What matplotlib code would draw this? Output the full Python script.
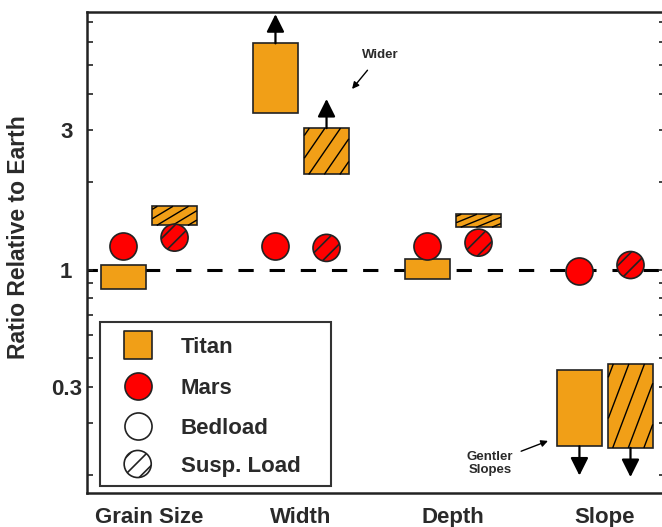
import numpy as np
import matplotlib
matplotlib.use('Agg')
import matplotlib.pyplot as plt
import matplotlib.patches as mpatches
from matplotlib.ticker import FixedLocator, LogLocator, NullFormatter

plt.rcParams['font.family'] = ['Liberation Sans', 'DejaVu Sans']
plt.rcParams['font.weight'] = 'bold'
plt.rcParams['hatch.linewidth'] = 1.2

categories = ['Grain Size', 'Width', 'Depth', 'Slope']

# Titan ranges, ratio to Earth (bedload / suspended load)
titan_bed_lo = [0.86, 3.44, 0.93, 0.250]
titan_bed_hi = [1.04, 5.94, 1.09, 0.456]
titan_susp_lo = [1.42, 2.12, 1.40, 0.247]
titan_susp_hi = [1.65, 3.05, 1.55, 0.478]
# open-ended ranges: 1 = keeps going up, -1 = keeps going down
titan_bound = [0, 1, 0, -1]

# Mars, ratio to Earth
mars_bed = [1.21, 1.21, 1.21, 0.99]
mars_susp = [1.29, 1.19, 1.24, 1.04]

y_ticks = [0.4, 1, 3]
y_tick_labels = ['0.3', '1', '3']

legend_labels = ['Titan', 'Mars', 'Bedload', 'Susp. Load']

ORANGE = '#f19f17'
EDGE = '#222222'
TEXT = '#2a2a2a'
OFF = 0.168      # bedload / susp. load offset from the category centre
BOX_W = 0.293
MSIZE = 380


def hatch_box(ax, xl, w, lo, hi, slope=1.4, step=0.35):
    # diagonal hatch stretched to the box (lines drawn in box-relative coords)
    llo, lhi = np.log10(lo), np.log10(hi)
    for a in np.arange(-0.6, 1.0, step):
        u0, u1 = max(0.0, a), min(1.0, a + 1.0 / slope)
        if u1 <= u0:
            continue
        us = np.array([u0, u1])
        vs = slope * (us - a)
        xs = xl + us * w
        ys = 10 ** (llo + vs * (lhi - llo))
        ax.plot(xs, ys, color='black', lw=1.0, zorder=3, solid_capstyle='butt')


fig = plt.figure(figsize=(6.62, 5.27), dpi=100)
ax = fig.add_axes([87 / 662, 34 / 527, 578 / 662, 481 / 527])
ax.set_yscale('log')

x = np.arange(len(categories))

ax.axhline(1, color='black', lw=2.2, linestyle=(1.6, (5, 5.2)), zorder=1)

for i in range(len(categories)):
    for xc, lo, hi, hatched in [(x[i] - OFF, titan_bed_lo[i], titan_bed_hi[i], False),
                                (x[i] + OFF, titan_susp_lo[i], titan_susp_hi[i], True)]:
        xl = xc - BOX_W / 2
        ax.add_patch(mpatches.Rectangle((xl, lo), BOX_W, hi - lo, facecolor=ORANGE,
                                        edgecolor=EDGE, lw=1.2, zorder=2))
        if hatched:
            hatch_box(ax, xl, BOX_W, lo, hi)
        if titan_bound[i] > 0:
            ax.annotate('', xy=(xc, hi), xytext=(0, 21), textcoords='offset points',
                        arrowprops=dict(arrowstyle='<|-', color='black', lw=1.6,
                                        mutation_scale=27, shrinkA=0, shrinkB=0),
                        zorder=3)
        elif titan_bound[i] < 0:
            ax.annotate('', xy=(xc, lo), xytext=(0, -21), textcoords='offset points',
                        arrowprops=dict(arrowstyle='<|-', color='black', lw=1.6,
                                        mutation_scale=27, shrinkA=0, shrinkB=0),
                        zorder=3)

ax.scatter(x - OFF, mars_bed, s=MSIZE, c='red', edgecolors=EDGE, linewidths=1.2, zorder=4)
ax.scatter(x + OFF, mars_susp, s=MSIZE, c='red', edgecolors=EDGE, linewidths=1.2,
           hatch='//', zorder=4)

# notes
ax.annotate('Wider', xy=(1.336, 4.15), xytext=(1.52, 5.42), ha='center', va='center',
            fontsize=9.5, fontweight='bold', color=TEXT,
            arrowprops=dict(arrowstyle='-|>', color='black', lw=1.0, mutation_scale=10,
                            shrinkA=6, shrinkB=0))
ax.annotate('Gentler\nSlopes', xy=(2.625, 0.261), xytext=(2.243, 0.219), ha='center',
            va='center', fontsize=9.5, fontweight='bold', color=TEXT, linespacing=1.1,
            arrowprops=dict(arrowstyle='-|>', color='black', lw=1.0, mutation_scale=10,
                            shrinkA=4, shrinkB=0))

# legend box
ax.add_patch(mpatches.Rectangle((0.0225, 0.0146), 0.3997, 0.341, transform=ax.transAxes,
                                facecolor='white', edgecolor='#333333', lw=1.5, zorder=5))
rows = [0.3077, 0.2225, 0.1393, 0.0603]
hx = 0.0877
ax.scatter([hx], [rows[0]], marker='s', s=MSIZE, c=ORANGE, edgecolors=EDGE,
           linewidths=1.2, transform=ax.transAxes, zorder=6, clip_on=False)
ax.scatter([hx], [rows[1]], s=MSIZE, c='red', edgecolors=EDGE, linewidths=1.2,
           transform=ax.transAxes, zorder=6, clip_on=False)
ax.scatter([hx], [rows[2]], s=MSIZE, c='white', edgecolors=EDGE, linewidths=1.2,
           transform=ax.transAxes, zorder=6, clip_on=False)
ax.scatter([hx], [rows[3]], s=MSIZE, c='white', edgecolors=EDGE, linewidths=1.2,
           hatch='//', transform=ax.transAxes, zorder=6, clip_on=False)
for r, lab in zip(rows, legend_labels):
    ax.text(0.162, r - 0.006, lab, transform=ax.transAxes, va='center', ha='left',
            fontsize=16, fontweight='bold', color=TEXT, zorder=6)

# axes
ax.set_xlim(-0.408, 3.395)
ax.set_ylim(0.1733, 7.60)
ax.set_xticks(x, categories)
ax.tick_params(axis='x', length=0, pad=10, labelsize=16, labelcolor=TEXT)

ax.yaxis.set_major_locator(FixedLocator(y_ticks))
ax.yaxis.set_minor_locator(LogLocator(base=10, subs=np.arange(2, 10)))
ax.yaxis.set_minor_formatter(NullFormatter())
ax.set_yticklabels(y_tick_labels)
ax.tick_params(axis='y', which='both', direction='in', left=True, right=True,
               length=4, width=1.2, color=EDGE, pad=15, labelsize=16, labelcolor=TEXT)
for lab in ax.get_yticklabels():
    lab.set_horizontalalignment('center')

for sp in ax.spines.values():
    sp.set_linewidth(1.8)
    sp.set_color(EDGE)

fig.text(19 / 662, 1 - 237 / 527, 'Ratio Relative to Earth', rotation=90, ha='center',
         va='center', fontsize=16.5, fontweight='bold', color=TEXT)

fig.savefig('out.png', dpi=100)
